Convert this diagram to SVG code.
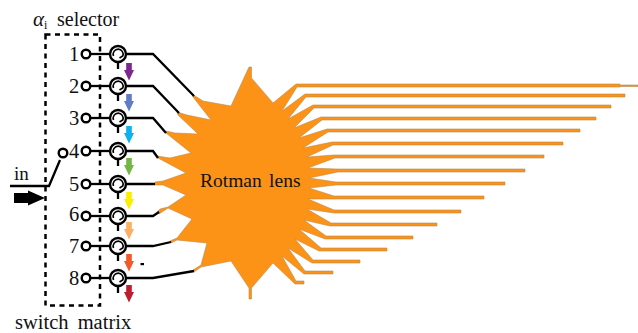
<svg xmlns="http://www.w3.org/2000/svg" width="638" height="333" viewBox="0 0 638 333">
<style>
text{font-family:"Liberation Serif","Times New Roman",serif;fill:#111}
.n{font-size:20.500px;text-anchor:middle}
.w{fill:none;stroke:#000;stroke-width:2.300}
.p{fill:#fff;stroke:#000;stroke-width:2.400}
.c{fill:#fff;stroke:#000;stroke-width:2.400}
.a{fill:none;stroke:#000;stroke-width:1.600}
.lens{fill:#fd9316;stroke:#b98a50;stroke-width:.6;stroke-linejoin:miter}
</style>
<defs>
<g id="circ"><circle class="c" cx="0" cy="0" r="8"/><path class="a" d="M-4.500 2A5 5 0 1 1 4.800 2L1.500 4"/><path class="w" d="M0 8V15"/></g>
<path id="dn" d="M-2.800 0H2.800V7H5L0 17.500L-5 7H-2.800Z"/>
</defs>
<g id="lens">
<path class="lens" d="M249 67H251.500V78L273 103L296 84H620V85H638V86.500H620V87H297L282 111L305 94H625V97H306L288 119L313 105H611V108H314L294 128L321 117H596V120H322L299 138L327 129H580V132H328L303 148L332 142H563V145H333L307 157L334 155H544V158H335L308 168L337 169H525V172H338L309 178L336 182H505V185H336L309 188L334 196H484V199H333L308 199L334 210H461V213H334L307 209L331 223H437V226H330L304 220L326 236H413V239H325L299 229L321 248H387V251H319L295 239L313 260H360V263H312L288 248L305 271H333V274H304L282 256L296 281H304V284H295L273 263L251.500 288V299H249V288L231 261L201 267L194 272L193 270L201 265L207 243L177 240L171 243L170 241L177 238L192 219L168 208L159 214L157 212L160 209L168 207L186 195L163 185L155 185L155 182L163 181L186 173L158 158L157 156L170 158L191 153L166 133L166 131L175 133L198 134L178 115L177 112L187 115L211 120L193 97L192 94L203 101L231 106Z"/>
<text x="200" y="187" style="font-size:19.500px;word-spacing:2.500px">Rotman lens</text>
</g>
<g id="connectors">
<path class="w" d="M127 54H153L194 96M127 86H153L179 113M127 118H153L166 133M127 151H153L158 158M127 184H155M127 216H153L159 212M127 246H153L171 242M127 278H153L194 271"/>
<path class="w" d="M10 186H49L60 160"/>
<path d="M14 193H28V190.500L45 198L28 205.500V203H14Z"/>
</g>
<g id="switch-matrix">
<rect x="45.500" y="34.500" width="54.500" height="271" fill="none" stroke="#000" stroke-width="2.500" stroke-dasharray="5 4.500"/>
<text x="15" y="329" style="font-size:20.500px;word-spacing:4px">switch matrix</text>
</g>
<g id="selector-label"><text x="33" y="26" style="font-size:21px;font-style:italic">α</text><text x="44" y="29" style="font-size:12px">i</text><text x="57" y="26" style="font-size:20px">selector</text></g>
<g id="in"><text x="14" y="180" style="font-size:19px">in</text><circle class="p" cx="63" cy="153" r="4.300"/></g>
<g id="row1"><text class="n" x="74" y="61">1</text><path class="w" d="M90 54H110"/><circle class="p" cx="86" cy="54" r="4.300"/><use href="#circ" x="118" y="54"/></g>
<g id="row2"><text class="n" x="74" y="93">2</text><path class="w" d="M90 86H110"/><circle class="p" cx="86" cy="86" r="4.300"/><use href="#circ" x="118" y="86"/></g>
<g id="row3"><text class="n" x="74" y="125">3</text><path class="w" d="M90 118H110"/><circle class="p" cx="86" cy="118" r="4.300"/><use href="#circ" x="118" y="118"/></g>
<g id="row4"><text class="n" x="74" y="158">4</text><path class="w" d="M90 151H110"/><circle class="p" cx="86" cy="151" r="4.300"/><use href="#circ" x="118" y="151"/></g>
<g id="row5"><text class="n" x="74" y="191">5</text><path class="w" d="M90 184H110"/><circle class="p" cx="86" cy="184" r="4.300"/><use href="#circ" x="118" y="184"/></g>
<g id="row6"><text class="n" x="74" y="221">6</text><path class="w" d="M90 216H110"/><circle class="p" cx="86" cy="216" r="4.300"/><use href="#circ" x="118" y="216"/></g>
<g id="row7"><text class="n" x="74" y="253">7</text><path class="w" d="M90 246H110"/><circle class="p" cx="86" cy="246" r="4.300"/><use href="#circ" x="118" y="246"/></g>
<g id="row8"><text class="n" x="74" y="285">8</text><path class="w" d="M90 278H110"/><circle class="p" cx="86" cy="278" r="4.300"/><use href="#circ" x="118" y="278"/></g>
<g id="arrows">
<use href="#dn" x="129" y="63" fill="#7b2a8c"/>
<use href="#dn" x="129" y="94" fill="#5f7cc4"/>
<use href="#dn" x="129" y="126" fill="#0fb0ee"/>
<use href="#dn" x="129" y="158" fill="#72b743"/>
<use href="#dn" x="129" y="192" fill="#fdee00"/>
<use href="#dn" x="129" y="222" fill="#fbb161"/>
<use href="#dn" x="129" y="254" fill="#f1592a"/>
<use href="#dn" x="129" y="285" fill="#bd1e2d"/>
</g>
<rect id="dot" x="140.500" y="263" width="3.500" height="2.200" fill="#000"/>
</svg>
